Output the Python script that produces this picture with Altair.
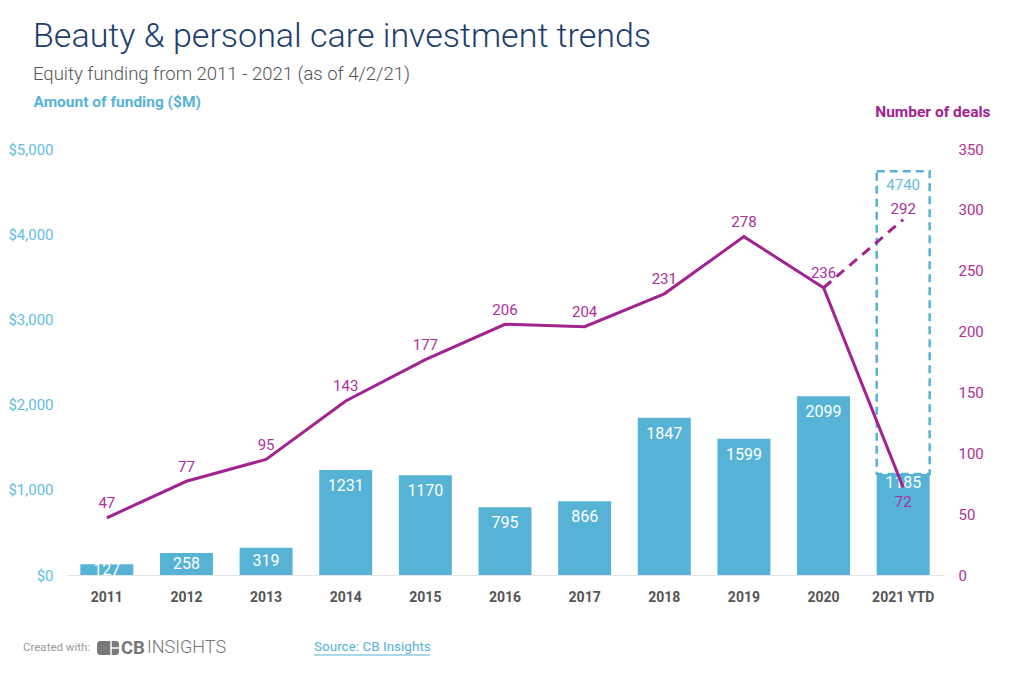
import altair as alt
import pandas as pd

# ---------------- data ----------------
years = ["2011", "2012", "2013", "2014", "2015", "2016", "2017", "2018", "2019", "2020", "2021 YTD"]
funding = [127, 258, 319, 1231, 1170, 795, 866, 1847, 1599, 2099, 1185]
deals = [47, 77, 95, 143, 177, 206, 204, 231, 278, 236, 72]

proj_years = ["2020", "2021 YTD"]
proj_deals = [236, 292]
proj_funding = 4740

funding_ticks = [0, 1000, 2000, 3000, 4000, 5000]
deals_ticks = [0, 50, 100, 150, 200, 250, 300, 350]

footer_left = ["Created with:"]
logo_bold = ["CB"]
logo_light = ["INSIGHTS"]
source_text = ["Source: CB Insights"]

BLUE = "#57b3d6"
BLUE_TXT = "#62bde0"
PURPLE = "#a2238f"
PURPLE_TXT = "#ad2f9a"
FONT = "Roboto"

df = pd.DataFrame({"year": years, "funding": funding, "deals": deals})
proj = pd.DataFrame({"year": [years[-1]], "start": [funding[-1]], "end": [proj_funding],
                     "deals": [proj_deals[-1]]})
dash = pd.DataFrame({"year": proj_years, "deals": proj_deals})

# ---------------- encodings ----------------
def xenc():
    return alt.X(
        "year:N",
        scale=alt.Scale(domain=years, paddingInner=0.335, paddingOuter=0.18),
        axis=alt.Axis(labelAngle=0, labelFontSize=14, labelFontWeight="bold", labelColor="#555555",
                      labelFont=FONT, labelPadding=15, ticks=False, domainColor="#e6e6e6",
                      domainWidth=1, grid=False),
        title=None,
    )


def yL(field):
    return alt.Y(
        field,
        scale=alt.Scale(domain=[0, 5000], nice=False),
        axis=alt.Axis(values=funding_ticks, format="$,.0f", orient="left", labelFontSize=15,
                      labelColor=BLUE_TXT, labelFont=FONT, labelPadding=13, ticks=False, domain=False,
                      grid=False, titleAngle=0, titleAlign="left", titleBaseline="middle",
                      titleX=-33, titleY=-48, titleFontSize=15.5, titleFontWeight="bold",
                      titleColor=BLUE, titleFont=FONT),
        title="Amount of funding ($M)",
    )


def yR(field):
    return alt.Y(
        field,
        scale=alt.Scale(domain=[0, 350], nice=False),
        axis=alt.Axis(values=deals_ticks, orient="right", labelFontSize=15,
                      labelColor=PURPLE_TXT, labelFont=FONT, labelPadding=14, ticks=False, domain=False,
                      grid=False, titleAngle=0, titleAlign="right", titleBaseline="middle",
                      titleX=46, titleY=-38, titleFontSize=15.5, titleFontWeight="bold",
                      titleColor=PURPLE, titleFont=FONT),
        title="Number of deals",
    )


# ---------------- left (funding) layers ----------------
bars = alt.Chart(df).mark_bar(color=BLUE).encode(x=xenc(), y=yL("funding:Q"))

proj_box = alt.Chart(proj).mark_bar(
    filled=False, stroke=BLUE, strokeWidth=2.5, strokeDash=[8, 5]
).encode(x=xenc(), y=yL("start:Q"), y2="end:Q")

bar_labels = alt.Chart(df).transform_calculate(
    lab="datum.year == '2021 YTD' ? datum.funding - 110 : max(datum.funding - 188, datum.funding * 0.5)"
).mark_text(color="white", fontSize=16, font=FONT, baseline="middle").encode(
    x=xenc(), y=yL("lab:Q"), text="funding:Q"
)

proj_label = alt.Chart(proj).mark_text(
    color=BLUE_TXT, fontSize=15, font=FONT, baseline="middle", dy=14
).encode(x=xenc(), y=yL("end:Q"), text="end:Q")

left = alt.layer(bars, proj_box, bar_labels, proj_label)

# ---------------- right (deals) layers ----------------
line = alt.Chart(df).mark_line(color=PURPLE, strokeWidth=3).encode(x=xenc(), y=yR("deals:Q"))

dash_line = alt.Chart(dash).mark_line(color=PURPLE, strokeWidth=3, strokeDash=[10, 7]).encode(
    x=xenc(), y=yR("deals:Q")
)

line_labels = alt.Chart(df).transform_calculate(
    lab="datum.year == '2021 YTD' ? datum.deals - 12 : datum.deals + 12"
).mark_text(color=PURPLE_TXT, fontSize=15, font=FONT, baseline="middle").encode(
    x=xenc(), y=yR("lab:Q"), text="deals:Q"
)

proj_deal_label = alt.Chart(proj).mark_text(
    color=PURPLE_TXT, fontSize=15, font=FONT, baseline="middle", dy=-11
).encode(x=xenc(), y=yR("deals:Q"), text="deals:Q")

right = alt.layer(line, dash_line, line_labels, proj_deal_label)

# ---------------- footer ----------------
created = alt.Chart(pd.DataFrame({"t": footer_left})).mark_text(
    color="#9a9a9a", fontSize=11.5, font=FONT, align="left", baseline="middle"
).encode(x=alt.value(-43), y=alt.value(499), text="t:N")

logo_icon = alt.Chart(pd.DataFrame({"t": logo_bold})).mark_rect(
    color="#7a7a7a", cornerRadius=3
).encode(x=alt.value(31), x2=alt.value(53), y=alt.value(492), y2=alt.value(506))

logo_cut_v = alt.Chart(pd.DataFrame({"t": logo_bold})).mark_rule(color="white", strokeWidth=1.5).encode(
    x=alt.value(45), y=alt.value(492), y2=alt.value(506)
)

logo_cut_h = alt.Chart(pd.DataFrame({"t": logo_bold})).mark_rule(color="white", strokeWidth=1.5).encode(
    x=alt.value(45), x2=alt.value(53), y=alt.value(499)
)

logo_cb = alt.Chart(pd.DataFrame({"t": logo_bold})).mark_text(
    color="#767676", fontSize=18.5, font=FONT, fontWeight="bold", align="left", baseline="middle"
).encode(x=alt.value(55), y=alt.value(499), text="t:N")

logo_ins = alt.Chart(pd.DataFrame({"t": logo_light})).mark_text(
    color="#767676", fontSize=18, font=FONT, fontWeight=300, align="left", baseline="middle"
).encode(x=alt.value(81), y=alt.value(499), text="t:N")

source = alt.Chart(pd.DataFrame({"t": source_text})).mark_text(
    color=BLUE, fontSize=13.5, font=FONT, align="left", baseline="middle"
).encode(x=alt.value(248), y=alt.value(498), text="t:N")

underline = alt.Chart(pd.DataFrame({"t": source_text})).mark_rule(color=BLUE, strokeWidth=1).encode(
    x=alt.value(248), x2=alt.value(364), y=alt.value(506)
)

footer = alt.layer(created, logo_icon, logo_cut_v, logo_cut_h, logo_cb, logo_ins, source, underline)

chart = (
    alt.layer(left, right, footer)
    .resolve_scale(y="independent")
    .properties(
        width=878,
        height=426,
        autosize=alt.AutoSizeParams(type="none"),
        padding={"left": 58, "top": 141, "right": 72, "bottom": 107},
        title=alt.TitleParams(
            text="Beauty & personal care investment trends",
            subtitle="Equity funding from 2011 - 2021 (as of 4/2/21)",
            anchor="start",
            frame="group",
            dx=-33,
            offset=11,
            font=FONT,
            fontSize=34,
            fontWeight=300,
            color="#1b3e6d",
            subtitleFont=FONT,
            subtitleFontSize=18.5,
            subtitleFontWeight=300,
            subtitleColor="#555555",
            subtitlePadding=11,
        ),
    )
    .configure(background="white")
    .configure_view(stroke=None)
)

chart.save("out.html", embed_options={"renderer": "svg", "actions": False})
